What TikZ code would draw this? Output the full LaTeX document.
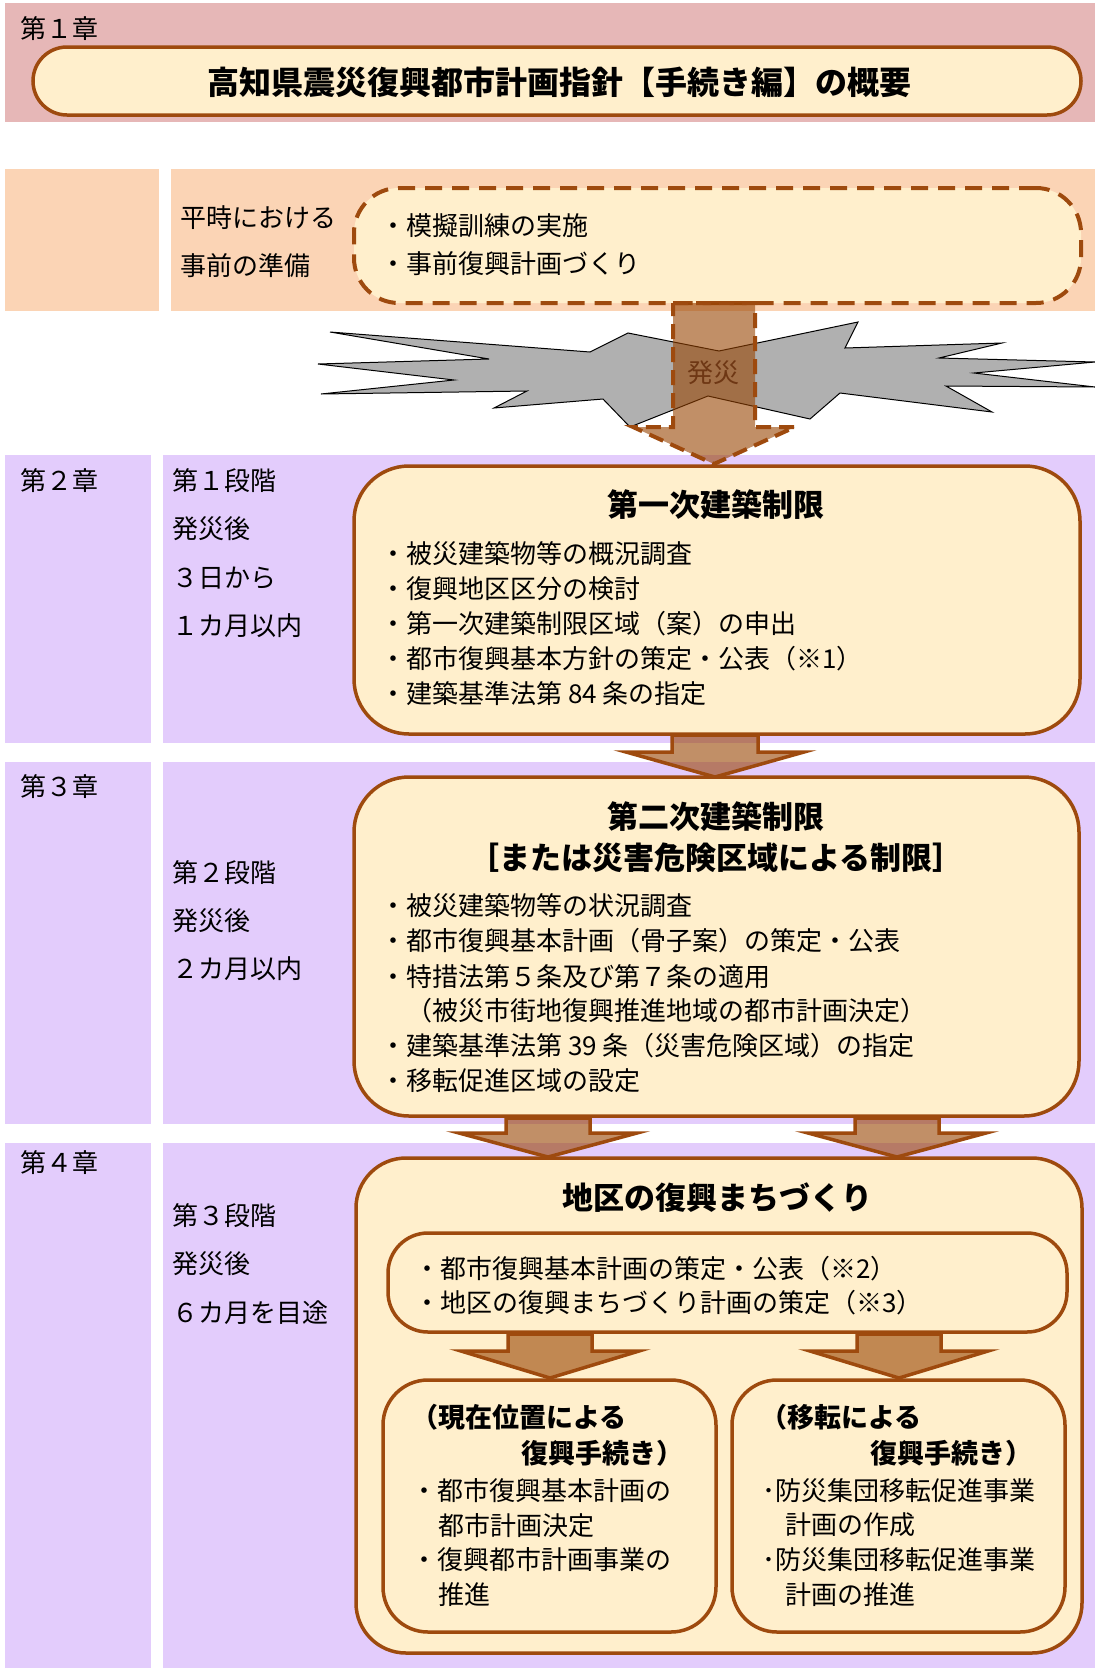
\documentclass[tikz,border=0pt]{standalone}
\usepackage{fontspec}
\setmainfont{Noto Sans CJK JP}
\definecolor{brd}{RGB}{158,74,14}
\definecolor{cream}{RGB}{255,239,204}
\definecolor{pinkband}{RGB}{230,183,183}
\definecolor{peach}{RGB}{251,212,181}
\definecolor{lav}{RGB}{227,204,252}
\definecolor{afill}{RGB}{152,68,2}
\definecolor{grayst}{RGB}{176,176,176}
\definecolor{hassai}{RGB}{110,55,20}
\newcommand\blkarr[7]{%
  \draw[#7] ({#1-#5},#2) -- ({#1+#5},#2) -- ({#1+#5},#3) -- ({#1+#6},#3) -- (#1,#4) -- ({#1-#6},#3) -- ({#1-#5},#3) -- cycle;}
\begin{document}
\begin{tikzpicture}[x=1pt,y=-1pt,
  cbox/.style={draw=brd, fill=cream, line width=3.5pt, inner sep=0pt, rounded corners=#1},
  tx/.style={anchor=west, inner sep=0pt, text height=23pt, text depth=3pt, font=\fontsize{26}{30}\selectfont},
  txb/.style={anchor=west, inner sep=0pt, text height=24pt, text depth=3pt, font=\fontsize{27}{30}\selectfont\bfseries},
  ttl/.style={inner sep=0pt, text height=27pt, text depth=4pt, font=\fontsize{31}{34}\selectfont\bfseries},
  blk/.style={fill=afill, fill opacity=0.6, draw=brd, draw opacity=1, line width=3.5pt},
  blkd/.style={blk, line width=4pt, dash pattern=on 15pt off 8pt}
]
\useasboundingbox (0,0) rectangle (1095,1668);
% bands
\fill[pinkband] (5,3) rectangle (1095,122);
\fill[peach] (5,169) rectangle (159,311);
\fill[peach] (171,169) rectangle (1095,311);
\fill[lav] (5,455) rectangle (151,743);
\fill[lav] (163,455) rectangle (1095,743);
\fill[lav] (5,762) rectangle (151,1124);
\fill[lav] (163,762) rectangle (1095,1124);
\fill[lav] (5,1143) rectangle (151,1668);
\fill[lav] (163,1143) rectangle (1095,1668);
% explosion
\draw[fill=grayst, draw=black, line width=1pt, line join=miter]
  (330,332) -- (590,352) -- (628,333) -- (719,351) -- (858,322) -- (845,348) -- (1002,343)
  -- (939,358) -- (1095,362) -- (974,373) -- (1095,387) -- (946,386) -- (992,412)
  -- (840,393) -- (810,419) -- (708,396) -- (630,427) -- (603,399) -- (494,408)
  -- (527,391) -- (321,394) -- (454,380) -- (318,364) -- (489,359) -- cycle;
% chapter 1
\node[tx] (c1) at (20,28) {第１章};
\node[cbox=34pt, minimum width=1048pt, minimum height=68pt] (title) at (557,81) {};
\node[inner sep=0pt, text height=28pt, text depth=4pt, font=\fontsize{32}{36}\selectfont\bfseries] (titletext) at (559,82) {高知県震災復興都市計画指針【手続き編】の概要};
% preparation
\node[tx] (p1) at (180,217) {平時における};
\node[tx] (p2) at (180,265) {事前の準備};
\node[cbox=45pt, line width=4pt, dash pattern=on 17pt off 10pt, minimum width=727pt, minimum height=115pt] (prep) at (717.5,245.5) {};
\node[tx] (pb1) at (380,225) {・模擬訓練の実施};
\node[tx] (pb2) at (380,263) {・事前復興計画づくり};
% chapter 2
\node[tx] (c2) at (20,480) {第２章};
\node[tx] (s1a) at (172,480) {第１段階};
\node[tx] (s1b) at (172,528) {発災後};
\node[tx] (s1c) at (172,577) {３日から};
\node[tx] (s1d) at (172,625) {１カ月以内};
\node[cbox=55pt, minimum width=726pt, minimum height=268pt] (b1) at (717,600) {};
\node[ttl] (b1t) at (716,505) {第一次建築制限};
\node[tx] at (380,553) {・被災建築物等の概況調査};
\node[tx] at (380,588) {・復興地区区分の検討};
\node[tx] at (380,623) {・第一次建築制限区域（案）の申出};
\node[tx] at (380,658) {・都市復興基本方針の策定・公表（※1）};
\node[tx] at (380,693) {・建築基準法第 84 条の指定};
% chapter 3
\node[tx] (c3) at (20,786) {第３章};
\node[tx] (s2a) at (172,872) {第２段階};
\node[tx] (s2b) at (172,920) {発災後};
\node[tx] (s2c) at (172,968) {２カ月以内};
\node[cbox=55pt, minimum width=725pt, minimum height=339pt] (b2) at (716.5,946.5) {};
\node[ttl] (b2t) at (716,817) {第二次建築制限};
\node[ttl] (b2u) at (716,858) {［または災害危険区域による制限］};
\node[tx] at (380,905) {・被災建築物等の状況調査};
\node[tx] at (380,940) {・都市復興基本計画（骨子案）の策定・公表};
\node[tx] at (380,976) {・特措法第５条及び第７条の適用};
\node[tx] at (380,1010) {　（被災市街地復興推進地域の都市計画決定）};
\node[tx] at (380,1045) {・建築基準法第 39 条（災害危険区域）の指定};
\node[tx] at (380,1080) {・移転促進区域の設定};
% chapter 4
\node[tx] (c4) at (20,1162) {第４章};
\node[tx] (s3a) at (172,1215) {第３段階};
\node[tx] (s3b) at (172,1263) {発災後};
\node[tx] (s3c) at (172,1312) {６カ月を目途};
\node[cbox=50pt, minimum width=726pt, minimum height=495pt] (b3) at (719,1405.5) {};
\node[ttl] (b3t) at (717,1198) {地区の復興まちづくり};
\node[cbox=40pt, minimum width=679pt, minimum height=99pt] (in) at (727.5,1282.5) {};
\node[tx] at (414,1268) {・都市復興基本計画の策定・公表（※2）};
\node[tx] at (414,1302) {・地区の復興まちづくり計画の策定（※3）};
\node[cbox=45pt, minimum width=333pt, minimum height=252pt] (bl) at (549.5,1506) {};
\node[cbox=45pt, minimum width=333pt, minimum height=252pt] (br) at (898.5,1506) {};
\node[txb] at (411,1417) {（現在位置による};
\node[txb] at (521,1453) {復興手続き）};
\node[tx] at (411,1490) {・都市復興基本計画の};
\node[tx] at (438,1525) {都市計画決定};
\node[tx] at (411,1559) {・復興都市計画事業の};
\node[tx] at (438,1594) {推進};
\node[txb] at (760,1417) {（移転による};
\node[txb] at (870,1453) {復興手続き）};
\node[tx] at (762,1490) {･防災集団移転促進事業};
\node[tx] at (785,1524) {計画の作成};
\node[tx] at (762,1559) {･防災集団移転促進事業};
\node[tx] at (785,1594) {計画の推進};
% arrows
\blkarr{714}{303}{427}{464}{41}{81}{blkd}
\node[inner sep=0pt, text height=23pt, text depth=3pt, font=\fontsize{26}{30}\selectfont, text=hassai] (hs) at (713,372) {発災};
\blkarr{715}{735}{752}{777}{43}{89}{blk}
\blkarr{548}{1118}{1133}{1157}{42}{89}{blk}
\blkarr{897}{1118}{1133}{1157}{42}{89}{blk}
\blkarr{550}{1334}{1351}{1378}{42}{89}{blk}
\blkarr{899}{1334}{1351}{1378}{42}{89}{blk}
\end{tikzpicture}
\end{document}
